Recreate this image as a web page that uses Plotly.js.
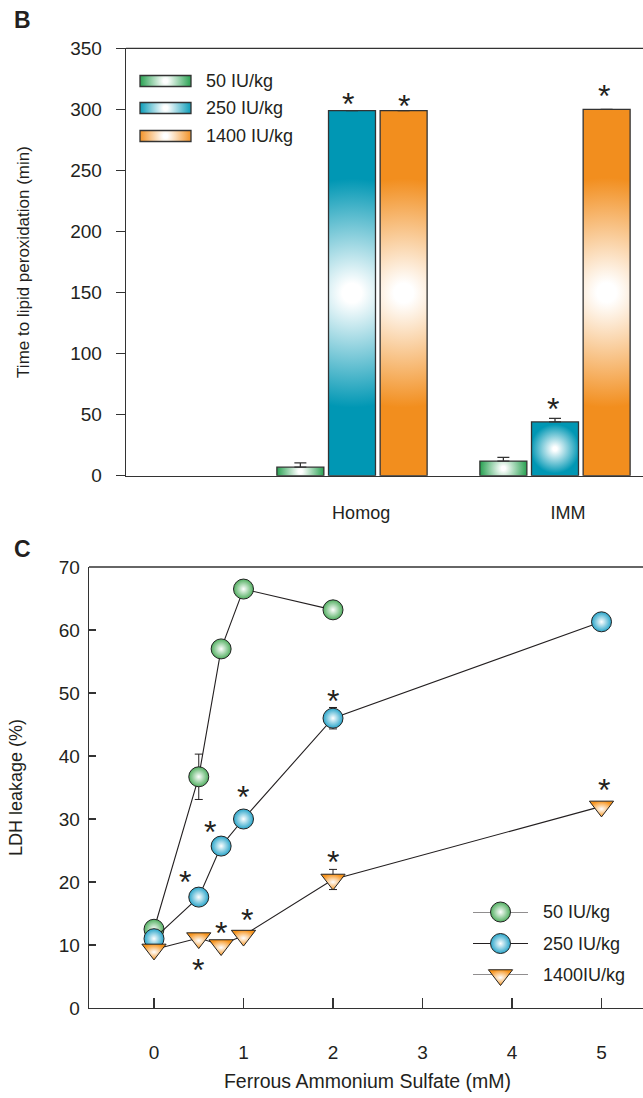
<!DOCTYPE html>
<html><head><meta charset="utf-8">
<script src="https://cdn.plot.ly/plotly-3.0.1.min.js"></script>
<style>html,body{margin:0;padding:0;overflow:hidden;background:#fff;width:643px;height:1098px}
#chart{width:646px;height:1098px}</style>
</head><body><div id="chart"></div>
<script>
// ---------- Panel B data ----------
const barCategories = ['Homog', 'IMM'];
const barSeriesNames = ['50 IU/kg', '250 IU/kg', '1400 IU/kg'];
const bar50 = [7, 12];
const bar250 = [299, 44];
const bar1400 = [299, 300];
const bar50Err = [3.5, 3];
const bar250Err = [0, 3];
const bar1400Err = [0, 0];
const bar50Sig = [false, false];
const bar250Sig = [true, true];
const bar1400Sig = [true, true];
const barYTicks = [0, 50, 100, 150, 200, 250, 300, 350];

// ---------- Panel C data ----------
const ldhSeriesNames = ['50 IU/kg', '250 IU/kg', '1400IU/kg'];
const dose50 = [0, 0.5, 0.75, 1, 2];
const ldh50 = [12.5, 36.7, 57, 66.5, 63.2];
const ldh50Err = [0, 3.6, 0, 0, 0];
const dose250 = [0, 0.5, 0.75, 1, 2, 5];
const ldh250 = [11, 17.6, 25.7, 30, 46, 61.3];
const ldh250Err = [0, 0, 0, 0, 1.7, 0];
const dose1400 = [0, 0.5, 0.75, 1, 2, 5];
const ldh1400 = [9.3, 11.1, 10.0, 11.5, 20.4, 32];
const ldh1400Err = [0, 0, 0, 0, 1.6, 0];
const ldh250Sig = [false, true, true, true, true, false];
const ldh1400Sig = [false, true, true, true, true, true];
const doseTicks = [0, 1, 2, 3, 4, 5];
const ldhTicks = [0, 10, 20, 30, 40, 50, 60, 70];

// ---------- styling ----------
const W = 646, H = 1098;
const px = v => v / W;
const py = v => 1 - v / H;
const FONT = 'Liberation Sans, Arial, Helvetica, sans-serif';
const INK = '#231f20';
const AX = '#333333';
const barColors = ['#1f9d4a', '#0097b4', '#f28e1e'];
const markerColors = ['#4fae5e', '#27a4c9', '#f7941d'];
const groupWidth = 0.763;          // 1 - bargap
const slot = groupWidth / 3;
const catPos = barCategories.map((c, i) => i + 1);
const labelShift = [0.045, 0.064];
const STAR = 32;
const GLYPH = 0.12 * STAR;

const barVals = [bar50, bar250, bar1400];
const barErrs = [bar50Err, bar250Err, bar1400Err];
const barSigs = [bar50Sig, bar250Sig, bar1400Sig];

const traces = [];
barVals.forEach((vals, s) => {
  traces.push({
    type: 'bar', x: catPos, y: vals, name: barSeriesNames[s],
    xaxis: 'x', yaxis: 'y',
    marker: {color: barColors[s], line: {color: AX, width: 1.3}},
    error_y: {type: 'data', symmetric: false, array: barErrs[s], arrayminus: barErrs[s].map(() => 0),
              color: AX, thickness: 1.3, width: 6, visible: true},
    showlegend: false, hoverinfo: 'skip'
  });
});

const ldhDose = [dose50, dose250, dose1400];
const ldhVals = [ldh50, ldh250, ldh1400];
const ldhErrs = [ldh50Err, ldh250Err, ldh1400Err];
const symbols = ['circle', 'circle', 'triangle-down'];
const sizes = [20, 20, 21];
ldhVals.forEach((vals, s) => {
  traces.push({
    type: 'scatter', mode: 'lines+markers', x: ldhDose[s], y: vals, name: ldhSeriesNames[s],
    xaxis: 'x2', yaxis: 'y2', cliponaxis: false,
    line: {color: INK, width: 1.1},
    marker: {symbol: symbols[s], size: sizes[s], color: markerColors[s],
             gradient: {type: 'radial', color: '#ffffff'}, line: {color: '#222', width: 1}},
    error_y: {type: 'data', array: ldhErrs[s], color: INK, thickness: 1, width: 4, visible: true},
    showlegend: false, hoverinfo: 'skip'
  });
});

// custom legend for panel C (aux axes)
ldhSeriesNames.forEach((n, s) => {
  const row = 2 - s;
  traces.push({type: 'scatter', mode: 'lines', x: [0, 1], y: [row, row], xaxis: 'x4', yaxis: 'y4',
    line: {color: INK, width: 1.1}, showlegend: false, hoverinfo: 'skip', cliponaxis: false});
  traces.push({type: 'scatter', mode: 'markers', x: [0.5], y: [row], xaxis: 'x4', yaxis: 'y4',
    marker: {symbol: symbols[s], size: sizes[s], color: markerColors[s],
             gradient: {type: 'radial', color: '#ffffff'}, line: {color: '#222', width: 1}},
    showlegend: false, hoverinfo: 'skip', cliponaxis: false});
});

// ---------- annotations ----------
const ann = [];
// panel B asterisks: offsets in px of glyph centre from top of bar/error
const barStarOffsets = {'1_0': [-4, -10], '2_0': [0, -8], '1_1': [-2, -13], '2_1': [-3, -17]};
barSigs.forEach((sig, s) => sig.forEach((on, c) => {
  if (!on) return;
  const off = barStarOffsets[s + '_' + c] || [0, -12];
  ann.push({xref: 'x', yref: 'y', x: catPos[c] + (s - 1) * slot, y: barVals[s][c] + barErrs[s][c],
    text: '*', showarrow: false, font: {family: FONT, size: STAR, color: INK},
    xshift: off[0], yshift: -off[1] - GLYPH});
}));
// panel C asterisks
const star250Offsets = [null, [-14, -19], [-11, -18], [-1, -26], [0, -21], null];
const star1400Offsets = [null, [-1, 28], [0, -16], [3, -19], [0, -21], [2, -20]];
[[ldh250Sig, dose250, ldh250, star250Offsets], [ldh1400Sig, dose1400, ldh1400, star1400Offsets]].forEach(([sig, xs, ys, offs]) => {
  sig.forEach((on, i) => {
    if (!on) return;
    ann.push({xref: 'x2', yref: 'y2', x: xs[i], y: ys[i], text: '*', showarrow: false,
      font: {family: FONT, size: STAR, color: INK}, xshift: offs[i][0], yshift: -offs[i][1] - GLYPH});
  });
});
// panel letters
ann.push({xref: 'paper', yref: 'paper', x: px(12), y: py(20), xanchor: 'left', yanchor: 'middle',
  text: '<b>B</b>', showarrow: false, font: {family: FONT, size: 23, color: INK}});
ann.push({xref: 'paper', yref: 'paper', x: px(12), y: py(549), xanchor: 'left', yanchor: 'middle',
  text: '<b>C</b>', showarrow: false, font: {family: FONT, size: 23, color: INK}});
// panel B legend text + boxes
const legBRows = [81, 108, 136];
const shapes = [];
barSeriesNames.forEach((n, s) => {
  ann.push({xref: 'paper', yref: 'paper', x: px(204), y: py(legBRows[s]), xanchor: 'left', yanchor: 'middle',
    text: n, showarrow: false, font: {family: FONT, size: 18, color: INK}});
  shapes.push({type: 'rect', xref: 'paper', yref: 'paper', x0: px(140), x1: px(191),
    y0: py(legBRows[s] + 5.5), y1: py(legBRows[s] - 5.5), fillcolor: barColors[s],
    line: {color: AX, width: 1.3}});
});
// panel C legend text
const legCRows = [912, 944, 975];
ldhSeriesNames.forEach((n, s) => {
  ann.push({xref: 'paper', yref: 'paper', x: px(541), y: py(legCRows[s]), xanchor: 'left', yanchor: 'middle',
    text: n, showarrow: false, font: {family: FONT, size: 18, color: INK}});
});
// top border lines
shapes.push({type: 'line', xref: 'x domain', yref: 'y domain', x0: 0, x1: 1, y0: 1, y1: 1, line: {color: AX, width: 1.3}});
shapes.push({type: 'line', xref: 'x2 domain', yref: 'y2 domain', x0: 0, x1: 1, y0: 1, y1: 1, line: {color: AX, width: 1.3}});

const bLeft = 126, cLeft = 89;
const bZero = 352, bUnit = 203;          // px of category 1, px per category
const cZero = 154, cUnit = 89.5;         // px of dose 0, px per mM

const layout = {
  width: W, height: H, margin: {l: 0, r: 0, t: 0, b: 0},
  paper_bgcolor: '#fff', plot_bgcolor: 'rgba(0,0,0,0)',
  font: {family: FONT, size: 18, color: INK},
  showlegend: false, barmode: 'group', bargap: 1 - groupWidth, bargroupgap: 0.09,
  xaxis: {domain: [px(bLeft), 1], anchor: 'y', range: [1 + (bLeft - bZero) / bUnit, 1 + (W - bZero) / bUnit],
    showline: true, linecolor: AX, linewidth: 1.3, ticks: '', showgrid: false, zeroline: false,
    tickmode: 'array', tickvals: catPos.map((c, i) => c + labelShift[i]), ticktext: barCategories,
    tickfont: {size: 18}, ticklabelstandoff: 20, automargin: false},
  yaxis: {domain: [py(475.7), py(48.3)], anchor: 'x', range: [0, 350], tickmode: 'array', tickvals: barYTicks,
    showline: true, linecolor: AX, linewidth: 1.3, ticks: 'outside', ticklen: 9, tickwidth: 1.3, tickcolor: AX,
    showgrid: false, zeroline: false, tickfont: {size: 19}, ticklabelstandoff: 10, automargin: false,
    title: {text: 'Time to lipid peroxidation (min)', font: {size: 17}, standoff: 36}},
  xaxis2: {domain: [px(cLeft), 1], anchor: 'y2', range: [(cLeft - cZero) / cUnit, (W - cZero) / cUnit],
    showline: true, linecolor: AX, linewidth: 1.3, ticks: 'inside', ticklen: 10, tickwidth: 1.3, tickcolor: AX,
    tickmode: 'array', tickvals: doseTicks, showgrid: false, zeroline: false, tickfont: {size: 19},
    ticklabelstandoff: 27, automargin: false,
    title: {text: 'Ferrous Ammonium Sulfate (mM)', font: {size: 19.5}, standoff: 12}},
  yaxis2: {domain: [py(1008), py(567)], anchor: 'x2', range: [0, 70], tickmode: 'array', tickvals: ldhTicks,
    showline: true, linecolor: AX, linewidth: 1.3, ticks: 'inside', ticklen: 7, tickwidth: 1.3, tickcolor: AX,
    showgrid: false, zeroline: false, tickfont: {size: 19}, ticklabelstandoff: 4, automargin: false,
    title: {text: 'LDH leakage (%)', font: {size: 18}, standoff: 31}},
  yaxis3: {overlaying: 'y2', anchor: 'x2', side: 'right', range: [0, 70], tickmode: 'array', tickvals: ldhTicks,
    showline: true, linecolor: AX, linewidth: 1.3, ticks: 'inside', ticklen: 7, tickwidth: 1.3, tickcolor: AX,
    showticklabels: false, showgrid: false, zeroline: false},
  xaxis4: {domain: [px(473), px(528)], anchor: 'y4', range: [0, 1], visible: false, fixedrange: true},
  yaxis4: {domain: [py(975), py(912)], anchor: 'x4', range: [0, 2], visible: false, fixedrange: true},
  annotations: ann, shapes: shapes
};

const NS = 'http://www.w3.org/2000/svg';
let gradCount = 0;
function glowFill(path, col, defs) {
  const bb = path.getBBox();
  const r = Math.max(bb.width * 0.55, bb.height * 0.33, 1);
  const g = document.createElementNS(NS, 'radialGradient');
  const id = 'glow' + (gradCount++);
  g.setAttribute('id', id);
  g.setAttribute('gradientUnits', 'userSpaceOnUse');
  g.setAttribute('cx', bb.x + bb.width / 2);
  g.setAttribute('cy', bb.y + bb.height / 2);
  g.setAttribute('r', r);
  [[0, '#ffffff'], [0.08, '#ffffff'], [0.95, col], [1, col]].forEach(([o, c]) => {
    const st = document.createElementNS(NS, 'stop');
    st.setAttribute('offset', o);
    st.setAttribute('stop-color', c);
    g.appendChild(st);
  });
  defs.appendChild(g);
  path.style.fill = 'url(#' + id + ')';
}
function addGradients(gd) {
  const defs = gd.querySelector('.main-svg defs');
  gd.querySelectorAll('.barlayer .trace').forEach((tr, i) => {
    tr.querySelectorAll('.point path').forEach(p => glowFill(p, barColors[i], defs));
  });
  gd.querySelectorAll('.shapelayer path').forEach(p => {
    const idx = +p.getAttribute('data-index');
    if (idx < 3) glowFill(p, barColors[idx], defs);
  });
}

Plotly.newPlot('chart', traces, layout, {staticPlot: true}).then(addGradients);
</script>
</body></html>
